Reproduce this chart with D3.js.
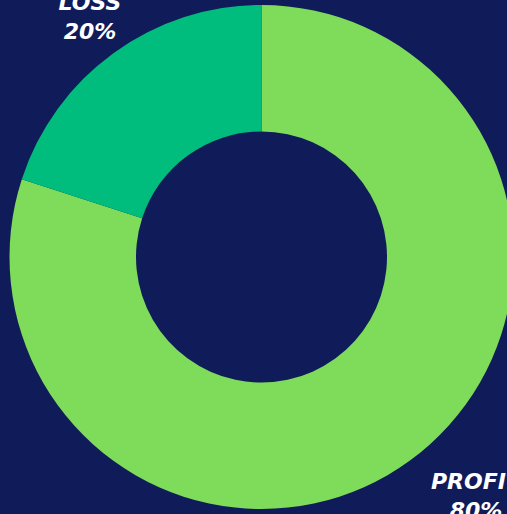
<!DOCTYPE html>
<html>
<head>
<meta charset="utf-8">
<script src="https://cdn.jsdelivr.net/npm/d3@7"></script>
<style>
  html, body { margin: 0; padding: 0; background: #101c5a; overflow: hidden; }
</style>
</head>
<body>
<div class="chartContainer"></div>
<script>
// 数据
const categories = ['PROFIT', 'LOSS'];
const values = [80, 20];
const colors = ['#7fdb5a', '#00bd7e'];

const width = 507, height = 514;
const cx = 261.5, cy = 257;
const outerR = 252, innerR = 125.5, labelR = 290;

const svg = d3.select('.chartContainer')
    .append('svg')
    .attr('width', width)
    .attr('height', height)
    .style('display', 'block');

svg.append('rect')
    .attr('width', width)
    .attr('height', height)
    .attr('fill', '#101c5a');

const g = svg.append('g').attr('transform', `translate(${cx},${cy})`);

const data = categories.map((c, i) => ({name: c, value: values[i], color: colors[i]}));

// 饼图布局，从 12 点钟方向顺时针
const pie = d3.pie().value(d => d.value).sort(null);
const arc = d3.arc().innerRadius(innerR).outerRadius(outerR);
const labelArc = d3.arc().innerRadius(labelR).outerRadius(labelR);

const arcs = pie(data);

g.selectAll('path')
    .data(arcs)
    .enter()
    .append('path')
    .attr('d', arc)
    .attr('fill', d => d.data.color);

// 标签
const labels = g.selectAll('text.label')
    .data(arcs)
    .enter()
    .append('text')
    .attr('class', 'label')
    .attr('text-anchor', 'middle')
    .attr('fill', '#ffffff')
    .style('font-family', '"DejaVu Sans", sans-serif')
    .style('font-weight', 'bold')
    .style('font-style', 'italic')
    .style('font-size', '22px')
    .attr('transform', d => {
        const [x, y] = labelArc.centroid(d);
        // 右侧标签整体向右下偏移
        const dx = x > 0 ? 44 : -1;
        const dy = x > 0 ? 10 : 1;
        return `translate(${x + dx},${y + dy})`;
    });

labels.append('tspan')
    .attr('x', 0)
    .attr('y', -13)
    .text(d => d.data.name);

labels.append('tspan')
    .attr('x', 0)
    .attr('y', 16)
    .text(d => `${d.data.value}%`);
</script>
</body>
</html>
